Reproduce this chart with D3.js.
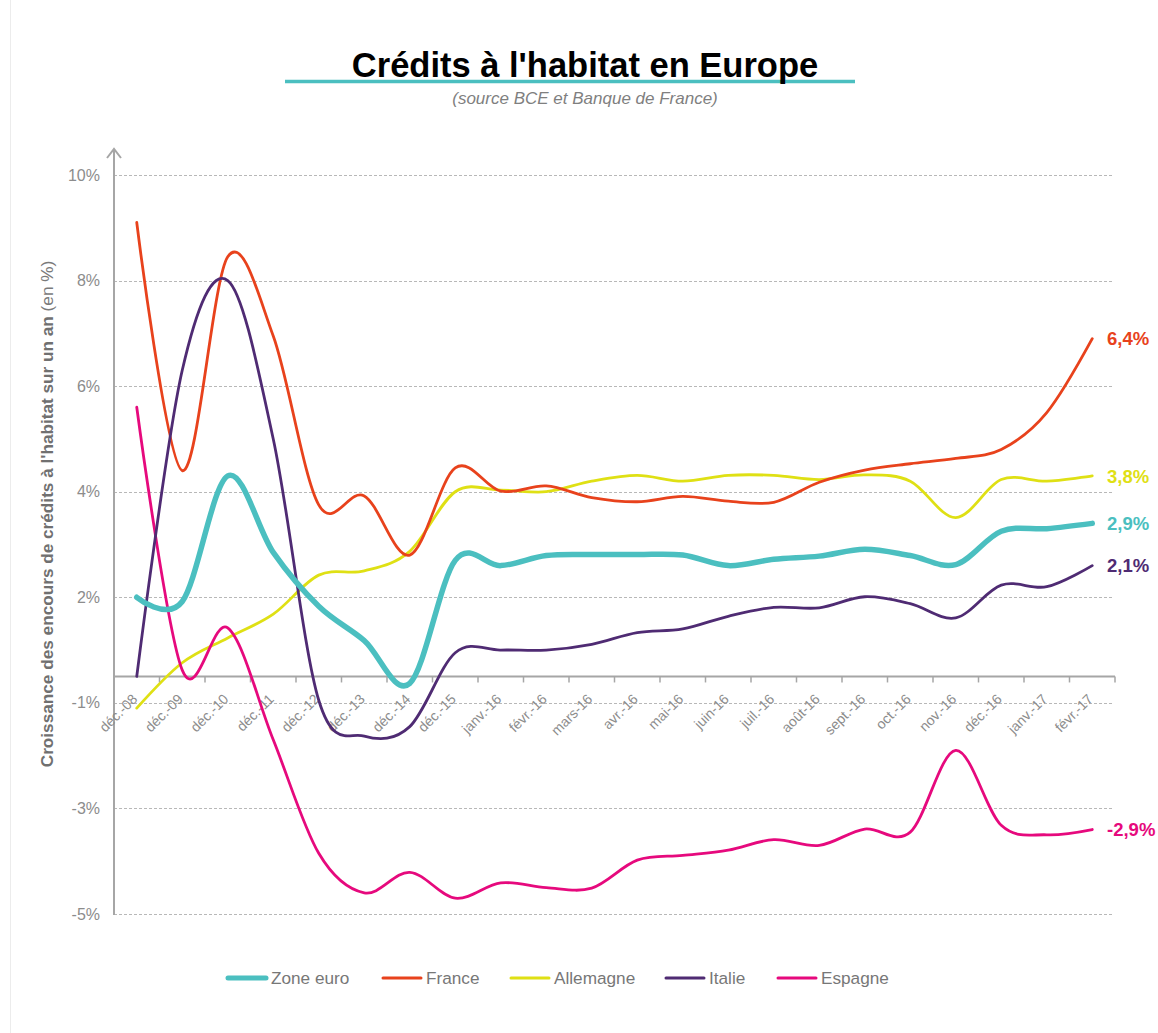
<!DOCTYPE html>
<html lang="fr">
<head>
<meta charset="utf-8">
<title>Crédits à l'habitat en Europe</title>
<script src="https://cdn.jsdelivr.net/npm/d3@7"></script>
<style>
  html, body { margin: 0; padding: 0; background: #fff; }
  svg { display: block; font-family: "Liberation Sans", Arial, sans-serif; }
</style>
</head>
<body>
<svg id="chart" width="1158" height="1033"></svg>
<script>
// Périodes (axe des abscisses)
const categories = ["déc.-08","déc.-09","déc.-10","déc.-11","déc.-12","déc.-13","déc.-14","déc.-15",
  "janv.-16","févr.-16","mars-16","avr.-16","mai-16","juin-16","juil.-16","août-16","sept.-16",
  "oct.-16","nov.-16","déc.-16","janv.-17","févr.-17"];

// Croissance annuelle des encours de crédits à l'habitat, en %
const zoneEuro  = [1.5, 1.42, 3.8, 2.35, 1.33, 0.68, -0.13, 2.2, 2.1, 2.29, 2.31, 2.31, 2.3, 2.1, 2.22, 2.28, 2.41, 2.29, 2.12, 2.75, 2.8, 2.9];
const france    = [8.6, 3.9, 7.95, 6.45, 3.25, 3.42, 2.3, 3.95, 3.51, 3.61, 3.39, 3.31, 3.41, 3.32, 3.3, 3.68, 3.91, 4.03, 4.13, 4.3, 5.0, 6.4];
const allemagne = [-0.6, 0.26, 0.73, 1.18, 1.92, 2.0, 2.37, 3.5, 3.53, 3.5, 3.7, 3.81, 3.7, 3.81, 3.81, 3.73, 3.82, 3.7, 3.01, 3.73, 3.7, 3.8];
const italie    = [0.0, 5.8, 7.5, 4.5, -0.45, -1.13, -0.95, 0.45, 0.5, 0.5, 0.61, 0.83, 0.9, 1.14, 1.31, 1.3, 1.51, 1.38, 1.11, 1.73, 1.7, 2.1];
const espagne   = [5.1, 0.12, 0.92, -1.2, -3.35, -4.1, -3.71, -4.2, -3.91, -4.0, -4.01, -3.48, -3.39, -3.29, -3.09, -3.2, -2.89, -2.95, -1.4, -2.82, -3.0, -2.9];

// Graduations de l'axe vertical et leurs libellés (arrondis à l'unité)
const yTickValues = [-4.5, -2.5, -0.5, 1.5, 3.5, 5.5, 7.5, 9.5];
const yTickLabels = ["-5%", "-3%", "-1%", "2%", "4%", "6%", "8%", "10%"];

const seriesNames = ["Zone euro", "France", "Allemagne", "Italie", "Espagne"];
const seriesValues = [zoneEuro, france, allemagne, italie, espagne];
const seriesColors = ["#4bbfc0", "#e8421c", "#dfe014", "#4f2b73", "#e6097d"];
const seriesWidths = [5.5, 2.8, 2.8, 2.8, 2.8];

const series = seriesNames.map((name, i) => ({
  name, values: seriesValues[i], color: seriesColors[i], width: seriesWidths[i]
}));

const svg = d3.select("#chart");
const grey = "#8c8c8c";

const x = d3.scaleBand().domain(categories).range([114, 1115]);
const y = d3.scaleLinear().domain([-4.5, 9.5]).range([914, 175]);
const cx = c => x(c) + x.bandwidth() / 2;

// Cadre discret à gauche
svg.append("line").attr("x1", 10.5).attr("x2", 10.5).attr("y1", 0).attr("y2", 1033)
  .attr("stroke", "#ececec").attr("stroke-width", 1);

// Titre
svg.append("line").attr("x1", 285).attr("x2", 855).attr("y1", 81.5).attr("y2", 81.5)
  .attr("stroke", "#4bbfc0").attr("stroke-width", 3.5);
svg.append("text").attr("x", 585).attr("y", 77).attr("text-anchor", "middle")
  .attr("font-size", 34.5).attr("font-weight", "bold").attr("fill", "#000")
  .text("Crédits à l'habitat en Europe");
svg.append("text").attr("x", 585).attr("y", 104).attr("text-anchor", "middle")
  .attr("font-size", 17).attr("font-style", "italic").attr("fill", "#7f7f7f")
  .text("(source BCE et Banque de France)");

// Quadrillage pointillé
svg.append("g").selectAll("line").data(yTickValues).join("line")
  .attr("x1", 114).attr("x2", 1113)
  .attr("y1", d => Math.round(y(d)) + 0.5).attr("y2", d => Math.round(y(d)) + 0.5)
  .attr("stroke", "#a6a6a6").attr("stroke-width", 0.8).attr("stroke-dasharray", "3,2");

// Axe vertical avec libellés
const yAxis = d3.axisLeft(y).tickValues(yTickValues)
  .tickFormat((d, i) => yTickLabels[i]).tickSize(0).tickPadding(14);
const gy = svg.append("g").attr("transform", "translate(114,0)").call(yAxis);
gy.select(".domain").remove();
gy.selectAll("text").attr("font-size", 16).attr("fill", grey)
  .attr("font-family", "'Liberation Sans', Arial, sans-serif");

svg.append("line").attr("x1", 114).attr("x2", 114).attr("y1", 149).attr("y2", 915)
  .attr("stroke", "#a6a6a6").attr("stroke-width", 2);
svg.append("path").attr("d", "M107,158 L114,149 L121,158")
  .attr("fill", "none").attr("stroke", "#a6a6a6").attr("stroke-width", 2);

// Axe horizontal au niveau zéro
const xAxis = d3.axisBottom(x).tickSize(0).tickFormat("");
const gx = svg.append("g").attr("transform", `translate(0,${y(0)})`).call(xAxis);
gx.select(".domain").remove();
svg.append("line").attr("x1", 114).attr("x2", 1115).attr("y1", y(0)).attr("y2", y(0))
  .attr("stroke", "#a6a6a6").attr("stroke-width", 2);
svg.append("g").selectAll("line").data(categories).join("line")
  .attr("x1", d => x(d) + x.bandwidth()).attr("x2", d => x(d) + x.bandwidth())
  .attr("y1", y(0)).attr("y2", y(0) + 6)
  .attr("stroke", "#a6a6a6").attr("stroke-width", 1.5);

svg.append("g").selectAll("text").data(categories).join("text")
  .attr("transform", d => `translate(${cx(d) - 2},${y(0) + 20}) rotate(-45)`)
  .attr("text-anchor", "end").attr("dy", "0.35em")
  .attr("font-size", 14).attr("fill", grey)
  .text(d => d);

// Titre de l'axe vertical
const yTitle = svg.append("text")
  .attr("transform", "translate(53,514) rotate(-90)")
  .attr("text-anchor", "middle").attr("font-size", 17.2).attr("fill", "#7a7a7a");
yTitle.append("tspan").attr("font-weight", "bold").attr("fill", "#707070")
  .text("Croissance des encours de crédits à l'habitat sur un an");
yTitle.append("tspan").text(" (en %)");

// Courbes lissées
const line = d3.line()
  .x((d, i) => cx(categories[i]))
  .y(d => y(d))
  .curve(d3.curveCardinal.tension(0));

const order = [2, 1, 4, 3, 0];
svg.append("g").selectAll("path").data(order.map(i => series[i])).join("path")
  .attr("d", s => line(s.values))
  .attr("fill", "none")
  .attr("stroke", s => s.color)
  .attr("stroke-width", s => s.width)
  .attr("stroke-linejoin", "round").attr("stroke-linecap", "round");

// Dernière valeur de chaque série
const fmt = v => d3.format(".1f")(v).replace(".", ",").replace("−", "-") + "%";
svg.append("g").selectAll("text").data(series).join("text")
  .attr("x", 1107)
  .attr("y", s => y(s.values[s.values.length - 1]))
  .attr("dy", "0.36em")
  .attr("font-size", 18.5).attr("font-weight", "bold")
  .attr("fill", s => s.color)
  .text(s => fmt(s.values[s.values.length - 1]));

// Légende
const legendX = [228, 383, 511, 666, 778];
const lg = svg.append("g").selectAll("g").data(series).join("g")
  .attr("transform", (s, i) => `translate(${legendX[i]},978)`);
lg.append("line").attr("x1", 0).attr("x2", 38).attr("y1", 0).attr("y2", 0)
  .attr("stroke", s => s.color).attr("stroke-width", s => s.width > 4 ? 5 : 3)
  .attr("stroke-linecap", "round");
lg.append("text").attr("x", 43).attr("y", 0).attr("dy", "0.36em")
  .attr("font-size", 17.2).attr("fill", "#777")
  .text(s => s.name);
</script>
</body>
</html>
